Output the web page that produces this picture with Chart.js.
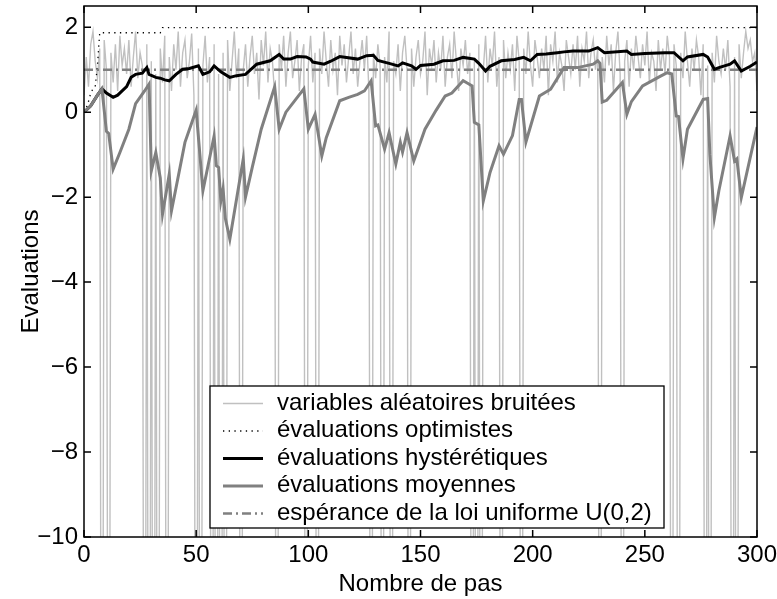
<!DOCTYPE html>
<html><head><meta charset="utf-8">
<script src="https://cdn.jsdelivr.net/npm/chart.js@4/dist/chart.umd.min.js"></script>
<style>html,body{margin:0;padding:0;background:#fff;}</style>
</head><body>
<canvas id="c" width="777" height="599"></canvas>
<script>
// ---- data ----
const xTicks = [0, 50, 100, 150, 200, 250, 300];
const yTicks = [-10, -8, -6, -4, -2, 0, 2];

// noisy random variables, one value per step 0..300 (-25 = plunges below the axis)
const noisyValues = [
 0.4,1.3,0.6,1.6,1.9,1.2,0.8,1.5,-25,1.7,
 1.0,-25,1.4,0.7,1.6,0.5,1.8,1.1,1.5,0.9,
 1.7,0.6,1.3,1.9,0.8,1.4,1.1,-25,1.6,-25,
 1.2,-25,0.9,-25,1.5,0.7,1.8,-25,1.3,0.5,
 1.6,1.0,1.9,0.6,1.4,1.7,0.8,1.2,1.85,0.4,
 -25,1.5,-25,1.1,1.8,0.7,1.3,-25,1.6,-25,
 0.9,-25,1.4,-25,1.7,0.5,1.2,1.9,0.8,1.5,
 -25,1.0,1.6,0.6,1.3,1.8,0.9,1.4,0.3,1.7,
 1.1,1.9,0.7,1.5,1.2,0.4,-25,1.6,1.0,1.8,
 0.6,1.4,1.9,0.8,1.2,1.7,0.5,1.3,1.6,-25,
 1.1,1.8,0.7,1.4,-25,1.5,0.9,1.9,1.2,0.6,
 1.7,1.0,1.4,0.4,1.8,1.1,1.6,0.7,1.3,1.9,
 0.9,1.5,0.6,1.2,1.7,1.0,1.8,0.5,-25,1.4,
 0.8,1.6,1.1,-25,1.3,0.7,1.9,-25,1.2,0.9,
 1.6,0.5,1.4,1.8,1.0,-25,1.5,0.6,1.3,1.7,
 0.9,1.2,1.9,0.4,1.5,1.1,1.7,0.7,1.4,1.0,
 1.8,0.6,1.3,1.6,0.8,1.9,1.2,0.5,1.5,1.1,
 1.7,0.9,1.4,-25,1.2,-25,1.6,-25,1.0,1.8,
 0.7,1.5,1.1,1.9,0.6,1.3,-25,1.7,0.8,1.4,
 1.0,1.6,0.5,1.8,1.2,-25,1.5,0.9,1.9,1.1,
 0.6,1.7,1.3,0.8,1.5,1.0,1.8,0.4,1.6,1.2,
 1.9,0.7,1.4,1.1,0.5,1.7,1.3,0.9,1.6,1.0,
 1.8,0.6,1.5,1.2,1.9,0.8,1.4,1.7,1.0,1.5,
 -25,1.3,0.7,1.8,1.1,1.6,0.5,1.4,1.9,0.9,
 -25,1.2,1.7,0.6,1.5,1.0,1.8,1.3,0.8,1.6,
 1.1,1.9,0.7,1.4,1.2,0.5,1.7,1.0,1.5,0.9,
 1.8,1.3,-25,1.6,1.1,-25,1.4,0.8,1.9,1.2,
 0.6,1.5,1.0,1.7,1.3,0.4,1.6,-25,1.1,-25,
 1.4,0.7,1.8,1.2,0.9,1.5,1.0,1.7,0.6,-25,
 1.3,-25,1.6,0.8,1.4,1.9,1.5,1.7,1.2,1.4,
 0.5
];

// optimistic evaluations
const optSteps  = [0, 1, 2, 3, 4, 5, 6, 7, 34, 35, 300];
const optValues = [0, 0.1, 0.25, 0.45, 0.55, 0.6, 1.1, 1.87, 1.87, 1.99, 1.99];

// hysteretic evaluations
const hystSteps  = [0,3,6,8,10,13,15,17,19,21,23,26,28,29,32,34,36,38,41,44,47,51,53,56,58,61,65,68,72,77,83,87,89,92,95,99,101,102,107,110,114,122,126,129,131,136,140,142,146,148,150,156,160,165,169,174,176,179,181,186,192,196,199,202,206,211,214,218,225,229,230,232,242,244,250,259,263,267,269,276,278,281,283,288,290,293,297,300];
const hystValues = [0,0.15,0.4,0.55,0.45,0.35,0.4,0.5,0.6,0.82,0.89,0.92,1.05,0.89,0.82,0.8,0.76,0.74,0.89,1.01,1.03,1.09,0.89,0.95,1.09,0.95,0.82,0.86,0.89,1.13,1.21,1.36,1.25,1.25,1.31,1.3,1.25,1.18,1.13,1.2,1.31,1.25,1.33,1.34,1.22,1.15,1.09,1.16,1.09,1.01,1.1,1.13,1.21,1.22,1.29,1.25,1.15,0.97,1.08,1.21,1.24,1.29,1.21,1.36,1.37,1.4,1.42,1.44,1.44,1.52,1.48,1.4,1.44,1.36,1.38,1.4,1.4,1.21,1.3,1.36,1.3,1.01,1.05,1.13,1.21,0.97,1.08,1.18];

// average evaluations
const avgSteps  = [0,3,6,8,10,11,13,16,20,23,27,29,30,32,34,35,38,39,45,49,50,53,58,59,60,61,62,63,65,71,72,75,79,85,87,90,98,100,103,106,108,114,118,122,125,128,130,131,134,136,137,139,141,142,144,147,152,157,161,164,169,171,173,174,176,178,181,185,187,191,194,195,197,203,208,214,220,227,229,230,231,233,240,242,244,249,257,260,262,264,265,267,269,276,278,279,281,283,288,290,291,293,300];
const avgValues = [0,0.15,0.4,0.55,-0.45,-0.5,-1.34,-0.95,-0.4,0.2,0.5,0.66,-1.38,-0.95,-1.55,-2.4,-1.46,-2.32,-0.71,-0.1,0.05,-1.85,-0.56,-1.26,-1.3,-2.09,-1.8,-2.5,-2.99,-1.1,-2.0,-1.3,-0.4,0.6,-0.4,0.0,0.55,-0.4,-0.05,-1.03,-0.6,0.27,0.35,0.42,0.5,0.74,-0.32,-0.3,-0.87,-0.48,-0.73,-1.22,-0.71,-0.94,-0.48,-1.15,-0.4,0.05,0.38,0.45,0.74,0.68,0.62,-0.24,-0.3,-2.09,-1.42,-0.79,-0.99,-0.55,0.3,0.3,-0.7,0.38,0.54,1.05,1.05,1.13,1.21,1.15,0.24,0.28,0.7,-0.05,0.25,0.62,0.85,0.93,0.9,-0.09,-0.1,-1.1,-0.4,0.3,0.32,-1.0,-2.48,-1.85,-0.56,-1.15,-1.1,-2.01,-0.35];

// expectation of U(0,2)
const expSteps  = [0, 300];
const expValues = [1, 1];

const legendLabels = [
  'variables aléatoires bruitées',
  'évaluations optimistes',
  'évaluations hystérétiques',
  'évaluations moyennes',
  'espérance de la loi uniforme U(0,2)'
];

// ---- chart ----
const FONT = "'Liberation Sans', Arial, Helvetica, sans-serif";
const pts = (xs, ys) => xs.map((x, i) => ({x, y: ys[i]}));

const datasets = [
  {label: legendLabels[0], data: noisyValues.map((v, i) => ({x: i, y: v})), borderColor: '#c0c0c0', borderWidth: 1.4, order: 5},
  {label: legendLabels[1], data: pts(optSteps, optValues), borderColor: '#000', borderWidth: 1.3, borderDash: [1.3, 4.4], order: 4},
  {label: legendLabels[2], data: pts(hystSteps, hystValues), borderColor: '#000', borderWidth: 3, order: 2},
  {label: legendLabels[3], data: pts(avgSteps, avgValues), borderColor: '#808080', borderWidth: 3, order: 1},
  {label: legendLabels[4], data: pts(expSteps, expValues), borderColor: '#808080', borderWidth: 2.5, borderDash: [9, 4, 2, 4], order: 3}
];

const fmt = v => v < 0 ? '\u2212' + Math.abs(v) : String(v);

const framePlugin = {
  id: 'frame',
  afterDatasetsDraw(chart) {
    const {ctx, chartArea: a, scales: {x, y}} = chart;
    ctx.save();
    ctx.setLineDash([]);
    ctx.strokeStyle = '#000';
    ctx.lineWidth = 1.5;
    ctx.strokeRect(a.left, a.top, a.right - a.left, a.bottom - a.top);
    const L = 7;
    ctx.beginPath();
    x.ticks.forEach(t => {
      const px = x.getPixelForValue(t.value);
      ctx.moveTo(px, a.bottom); ctx.lineTo(px, a.bottom - L);
      ctx.moveTo(px, a.top); ctx.lineTo(px, a.top + L);
    });
    y.ticks.forEach(t => {
      const py = y.getPixelForValue(t.value);
      ctx.moveTo(a.left, py); ctx.lineTo(a.left + L, py);
      ctx.moveTo(a.right, py); ctx.lineTo(a.right - L, py);
    });
    ctx.stroke();

    // legend box
    const bx = 210, by = 386, bw = 454, bh = 142;
    ctx.fillStyle = '#fff';
    ctx.fillRect(bx, by, bw, bh);
    ctx.lineWidth = 1.3;
    ctx.strokeRect(bx, by, bw, bh);
    ctx.font = '24px ' + FONT;
    ctx.textBaseline = 'alphabetic';
    ctx.textAlign = 'left';
    chart.data.datasets.forEach((ds, i) => {
      const cy = 403.5 + i * 27.5;
      ctx.save();
      ctx.strokeStyle = ds.borderColor;
      ctx.lineWidth = ds.borderWidth;
      ctx.setLineDash(ds.borderDash || []);
      ctx.beginPath();
      ctx.moveTo(223, cy); ctx.lineTo(263, cy);
      ctx.stroke();
      ctx.restore();
      ctx.fillStyle = '#000';
      ctx.fillText(ds.label, 277, cy + 6);
    });
    ctx.restore();
  }
};

new Chart(document.getElementById('c'), {
  type: 'line',
  data: {datasets},
  options: {
    responsive: false,
    animation: false,
    layout: {padding: {top: 6, right: 20, left: 0, bottom: 0}},
    elements: {point: {radius: 0}, line: {tension: 0}},
    plugins: {legend: {display: false}, tooltip: {enabled: false}},
    scales: {
      x: {
        type: 'linear', min: 0, max: 300,
        grid: {display: false, drawTicks: false},
        border: {display: false},
        afterBuildTicks: s => { s.ticks = xTicks.map(v => ({value: v})); },
        ticks: {color: '#000', font: {family: FONT, size: 24}, padding: 4, maxRotation: 0, autoSkip: false},
        title: {display: true, text: 'Nombre de pas', color: '#000', font: {family: FONT, size: 24}, padding: {top: 5, bottom: 0}},
        afterFit: s => { s.height = 62; s.paddingLeft = 0; s.paddingRight = 0; }
      },
      y: {
        type: 'linear', min: -10, max: 2.5,
        grid: {display: false, drawTicks: false},
        border: {display: false},
        afterBuildTicks: s => { s.ticks = yTicks.map(v => ({value: v})); },
        ticks: {color: '#000', font: {family: FONT, size: 24}, padding: 6, autoSkip: false, callback: v => fmt(v)},
        title: {display: true, text: 'Evaluations', color: '#000', font: {family: FONT, size: 24}, padding: {top: 17, bottom: 0}},
        afterFit: s => { s.width = 84; s.paddingTop = 0; s.paddingBottom = 0; }
      }
    }
  },
  plugins: [framePlugin]
});
</script>
</body></html>
